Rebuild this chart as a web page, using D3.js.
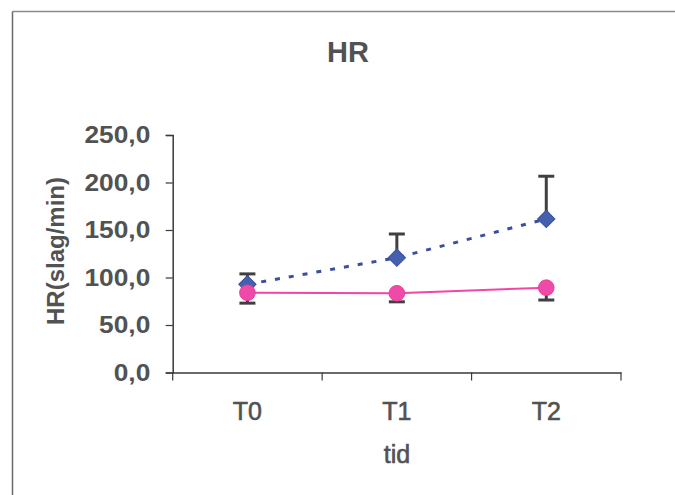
<!DOCTYPE html>
<html><head><meta charset="utf-8">
<script src="https://cdn.jsdelivr.net/npm/d3@7"></script>
<style>
html,body{margin:0;padding:0;background:#fff;}
svg{display:block;}
</style></head>
<body>
<svg id="c" width="675" height="495"></svg>
<script>
const categories = ["T0", "T1", "T2"];
const blueMean = [92.8, 120.8, 161.6];
const blueErrUp = [11, 25, 45];
const pinkMean = [84.0, 83.4, 89.3];
const pinkErrDown = [11, 9, 13];
const yTicks = [0, 50, 100, 150, 200, 250];
const titleText = "HR";
const yTitle = "HR(slag/min)";
const xTitle = "tid";

const svg = d3.select("#c");
const textCol = "#525252";
const axisCol = "#3a3a3a";

// frame
svg.append("line").attr("x1",12.5).attr("y1",11.5).attr("x2",675).attr("y2",11.5).attr("stroke","#8a8a8a").attr("stroke-width",1.5);
svg.append("line").attr("x1",12.5).attr("y1",11.5).attr("x2",12.5).attr("y2",495).attr("stroke","#6a6a6a").attr("stroke-width",1.5);

const x = d3.scaleBand().domain(categories).range([172.7, 621]).padding(0);
const y = d3.scaleLinear().domain([0, 250]).range([372.5, 135]);
const cx = d => x(d) + x.bandwidth()/2;

// y axis
const yAxis = d3.axisLeft(y).tickValues(yTicks).tickSize(7).tickPadding(15)
  .tickFormat(d => d3.format(".1f")(d).replace(".", ","));
const gy = svg.append("g").attr("transform","translate(172.7,0)").call(yAxis);
gy.select(".domain").attr("stroke",axisCol).attr("stroke-width",1.5);
gy.selectAll(".tick line").attr("stroke",axisCol).attr("stroke-width",1.2);
gy.selectAll(".tick text").attr("fill",textCol).attr("font-family","Liberation Sans, Arial, sans-serif")
  .attr("font-weight","bold").attr("font-size",23.5).attr("transform","scale(1.12,1)").attr("x",-20);

// x axis
const xAxis = d3.axisBottom(x).tickSize(0).tickPadding(30);
const gx = svg.append("g").attr("transform","translate(0,372.5)").call(xAxis);
gx.select(".domain").attr("stroke",axisCol).attr("stroke-width",1.5);
gx.selectAll(".tick text").attr("fill",textCol).attr("font-family","Liberation Sans, Arial, sans-serif")
  .attr("font-size",25).attr("stroke",textCol).attr("stroke-width",0.6);
// boundary ticks
const bounds = categories.map(c => x(c)).concat([x(categories[categories.length-1]) + x.bandwidth()]);
gx.selectAll(".btick").data(bounds).enter().append("line")
  .attr("x1",d=>d).attr("x2",d=>d).attr("y1",0).attr("y2",8)
  .attr("stroke",axisCol).attr("stroke-width",1.2);

// titles
svg.append("text").attr("x",348).attr("y",62).attr("text-anchor","middle")
  .attr("font-family","Liberation Sans, Arial, sans-serif").attr("font-weight","bold").attr("font-size",29)
  .attr("fill",textCol).text(titleText);
svg.append("text").attr("transform","translate(64,251) rotate(-90)").attr("text-anchor","middle")
  .attr("font-family","Liberation Sans, Arial, sans-serif").attr("font-weight","bold").attr("font-size",24)
  .attr("fill",textCol).text(yTitle);
svg.append("text").attr("x",397).attr("y",463).attr("text-anchor","middle")
  .attr("font-family","Liberation Sans, Arial, sans-serif").attr("font-size",25)
  .attr("stroke",textCol).attr("stroke-width",0.6)
  .attr("fill",textCol).text(xTitle);

const errCol = "#404040";
// blue error bars (upper)
categories.forEach((c,i) => {
  const top = y(blueMean[i] + blueErrUp[i]);
  svg.append("line").attr("x1",cx(c)).attr("x2",cx(c)).attr("y1",y(blueMean[i])).attr("y2",top)
    .attr("stroke",errCol).attr("stroke-width",3);
  svg.append("line").attr("x1",cx(c)-8).attr("x2",cx(c)+8).attr("y1",top).attr("y2",top)
    .attr("stroke",errCol).attr("stroke-width",3);
});
// pink error bars (lower)
categories.forEach((c,i) => {
  const bot = y(pinkMean[i] - pinkErrDown[i]);
  svg.append("line").attr("x1",cx(c)).attr("x2",cx(c)).attr("y1",y(pinkMean[i])).attr("y2",bot)
    .attr("stroke",errCol).attr("stroke-width",3);
  svg.append("line").attr("x1",cx(c)-8).attr("x2",cx(c)+8).attr("y1",bot).attr("y2",bot)
    .attr("stroke",errCol).attr("stroke-width",3);
});

// lines
const line = d3.line().x((d,i)=>cx(categories[i])).y(d=>y(d));
svg.append("path").datum(blueMean).attr("d",line).attr("fill","none")
  .attr("stroke","#3a4f9e").attr("stroke-width",3).attr("stroke-dasharray","5,9");
svg.append("path").datum(pinkMean).attr("d",line).attr("fill","none")
  .attr("stroke","#f046a8").attr("stroke-width",2);

// markers
svg.selectAll(".dia").data(blueMean).enter().append("path")
  .attr("d", d3.symbol().type(d3.symbolSquare).size(150))
  .attr("transform",(d,i)=>`translate(${cx(categories[i])},${y(d)}) rotate(45)`)
  .attr("fill","#4560ad").attr("stroke","#3a52a0").attr("stroke-width",1);
svg.selectAll(".dot").data(pinkMean).enter().append("circle")
  .attr("cx",(d,i)=>cx(categories[i])).attr("cy",d=>y(d)).attr("r",7.8)
  .attr("fill","#f04aa8").attr("stroke","#e83d9d").attr("stroke-width",1);
</script>
</body></html>
